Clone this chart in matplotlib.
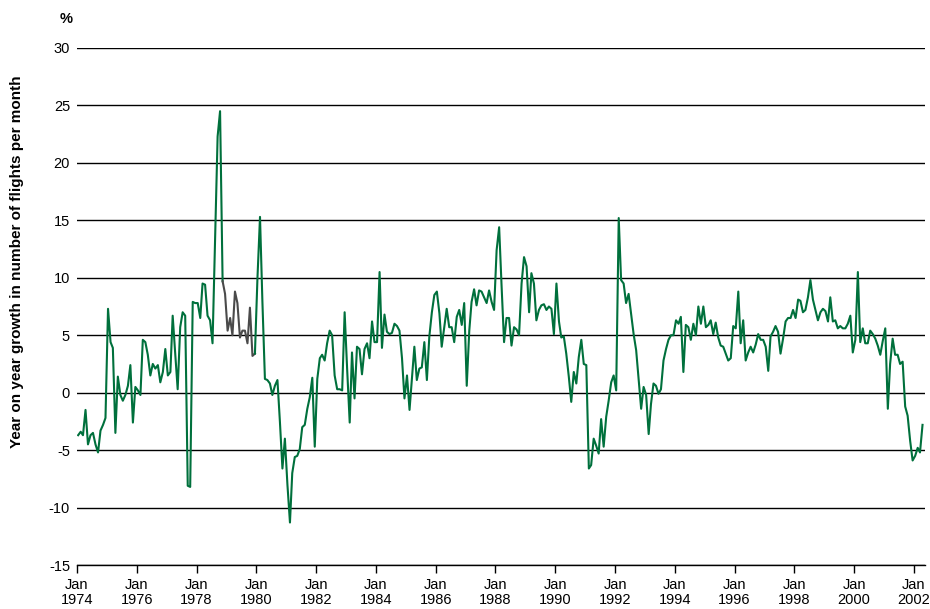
import matplotlib
matplotlib.use("Agg")
import matplotlib.pyplot as plt
import matplotlib.dates as mdates
import pandas as pd

plt.rcParams["font.family"] = ["Liberation Sans", "DejaVu Sans"]
plt.rcParams["axes.unicode_minus"] = False

# monthly year-on-year growth (%), Jan 1974 onwards, one row per year
growth = [
    -3.7, -3.4, -3.7, -1.5, -4.5, -3.7, -3.5, -4.5, -5.2, -3.3, -2.8, -2.2,  # 1974
    7.3, 4.4, 3.9, -3.5, 1.4, -0.2, -0.7, -0.2, 0.6, 2.4, -2.6, 0.5,  # 1975
    0.2, -0.2, 4.6, 4.4, 3.3, 1.5, 2.5, 2.1, 2.4, 0.9, 1.8, 3.8,  # 1976
    1.5, 1.8, 6.7, 3.4, 0.3, 5.7, 7.0, 6.7, -8.1, -8.2, 7.9, 7.8,  # 1977
    7.8, 6.5, 9.5, 9.4, 6.7, 6.3, 4.3, 13.3, 22.3, 24.5, 9.7, 8.6,  # 1978
    5.4, 6.5, 5.0, 8.8, 7.8, 4.8, 5.4, 5.4, 4.3, 7.4, 3.2, 3.4,  # 1979
    10.0, 15.3, 8.0, 1.2, 1.1, 0.8, -0.2, 0.6, 1.1, -2.5, -6.6, -4.0,  # 1980
    -8.0, -11.3, -7.0, -5.6, -5.5, -4.9, -3.0, -2.8, -1.4, -0.4, 1.3, -4.7,  # 1981
    1.2, 3.0, 3.3, 2.8, 4.3, 5.4, 5.0, 1.5, 0.3, 0.3, 0.2, 7.0,  # 1982
    2.0, -2.6, 3.5, -0.5, 4.0, 3.8, 1.6, 3.8, 4.3, 3.0, 6.2, 4.4,  # 1983
    4.4, 10.5, 3.9, 6.8, 5.3, 5.1, 5.2, 6.0, 5.8, 5.4, 3.0, -0.5,  # 1984
    1.5, -1.5, 1.1, 4.0, 1.1, 2.1, 2.2, 4.4, 1.1, 4.9, 7.0, 8.5,  # 1985
    8.8, 6.9, 4.0, 5.7, 7.3, 5.7, 5.7, 4.4, 6.6, 7.2, 5.9, 7.8,  # 1986
    0.6, 5.4, 7.9, 9.0, 7.6, 8.9, 8.8, 8.3, 7.8, 8.9, 7.9, 7.2,  # 1987
    12.4, 14.4, 9.4, 4.4, 6.5, 6.5, 4.1, 5.7, 5.5, 5.0, 9.5, 11.8,  # 1988
    11.0, 7.0, 10.4, 9.5, 6.3, 7.2, 7.6, 7.7, 7.2, 7.5, 7.3, 5.1,  # 1989
    9.5, 6.2, 4.8, 4.9, 3.4, 1.4, -0.8, 1.8, 0.8, 3.1, 4.6, 2.5,  # 1990
    2.4, -6.6, -6.3, -4.0, -4.6, -5.3, -2.3, -4.7, -2.1, -0.7, 0.9, 1.5,  # 1991
    0.2, 15.2, 9.8, 9.5, 7.8, 8.6, 6.9, 5.1, 3.7, 1.2, -1.4, 0.5,  # 1992
    -0.2, -3.6, -1.0, 0.8, 0.6, -0.1, 0.3, 2.8, 3.8, 4.6, 5.0, 5.0,  # 1993
    6.3, 6.0, 6.6, 1.8, 5.9, 5.7, 4.6, 6.0, 5.0, 7.5, 6.0, 7.5,  # 1994
    5.7, 5.9, 6.3, 5.1, 6.1, 4.8, 4.1, 4.0, 3.4, 2.8, 3.0, 5.8,  # 1995
    5.6, 8.8, 4.3, 6.3, 2.8, 3.5, 4.0, 3.5, 4.2, 5.1, 4.6, 4.6,  # 1996
    4.0, 1.9, 4.9, 5.3, 5.8, 5.3, 3.4, 4.7, 6.2, 6.5, 6.5, 7.2,  # 1997
    6.5, 8.1, 8.0, 7.0, 7.2, 8.3, 9.8, 8.1, 7.2, 6.3, 7.0, 7.3,  # 1998
    7.1, 6.2, 8.3, 6.2, 6.3, 5.6, 5.8, 5.6, 5.6, 6.0, 6.7, 3.5,  # 1999
    4.6, 10.5, 4.4, 5.6, 4.3, 4.3, 5.4, 5.1, 4.7, 4.1, 3.3, 4.5,  # 2000
    5.6, -1.4, 2.5, 4.7, 3.3, 3.3, 2.5, 2.7, -1.2, -2.0, -4.2, -5.9,  # 2001
    -5.5, -4.8, -5.2, -2.8,  # 2002
]

# months drawn in grey (Nov 1978 - Dec 1979)
grey_start, grey_end = 58, 71

# points sit mid-month
months = pd.date_range("1974-01-01", periods=len(growth), freq="MS") + pd.Timedelta(days=14)
s = pd.Series(growth, index=months)

green = "#00703c"
grey = "#4a4a4a"

fig = plt.figure(figsize=(9.3, 6.09), dpi=100)
ax = fig.add_axes([0.0828, 0.0722, 0.9118, 0.849])

ax.plot(s.index[:grey_start + 1], s.values[:grey_start + 1], color=green, lw=1.5)
ax.plot(s.index[grey_start:grey_end + 1], s.values[grey_start:grey_end + 1], color=grey, lw=1.5)
ax.plot(s.index[grey_end:], s.values[grey_end:], color=green, lw=1.5)

ax.set_ylim(-15, 30)
ax.set_yticks(range(-15, 31, 5))
ax.set_xlim(pd.Timestamp("1974-01-01"), pd.Timestamp("2002-05-15"))

ax.xaxis.set_major_locator(mdates.YearLocator(2, month=1, day=1))
ax.xaxis.set_major_formatter(mdates.DateFormatter("Jan\n%Y"))

ax.grid(axis="y", color="black", lw=1.0)
ax.set_axisbelow(True)
for side in ["top", "right", "left"]:
    ax.spines[side].set_visible(False)
ax.spines["bottom"].set_linewidth(1.0)

ax.tick_params(axis="y", length=0, pad=5, labelsize=10.5)
ax.tick_params(axis="x", length=6, width=1, pad=3, labelsize=10.5)
for lab in ax.get_xticklabels():
    lab.set_linespacing(1.1)

fig.text(0.0183, 0.571, "Year on year growth in number of flights per month",
         fontsize=11, fontweight="bold", rotation=90, ha="center", va="center")
fig.text(0.0715, 0.9696, "%", fontsize=10.5, fontweight="bold", ha="center", va="center")

fig.savefig("out.png", dpi=100)
